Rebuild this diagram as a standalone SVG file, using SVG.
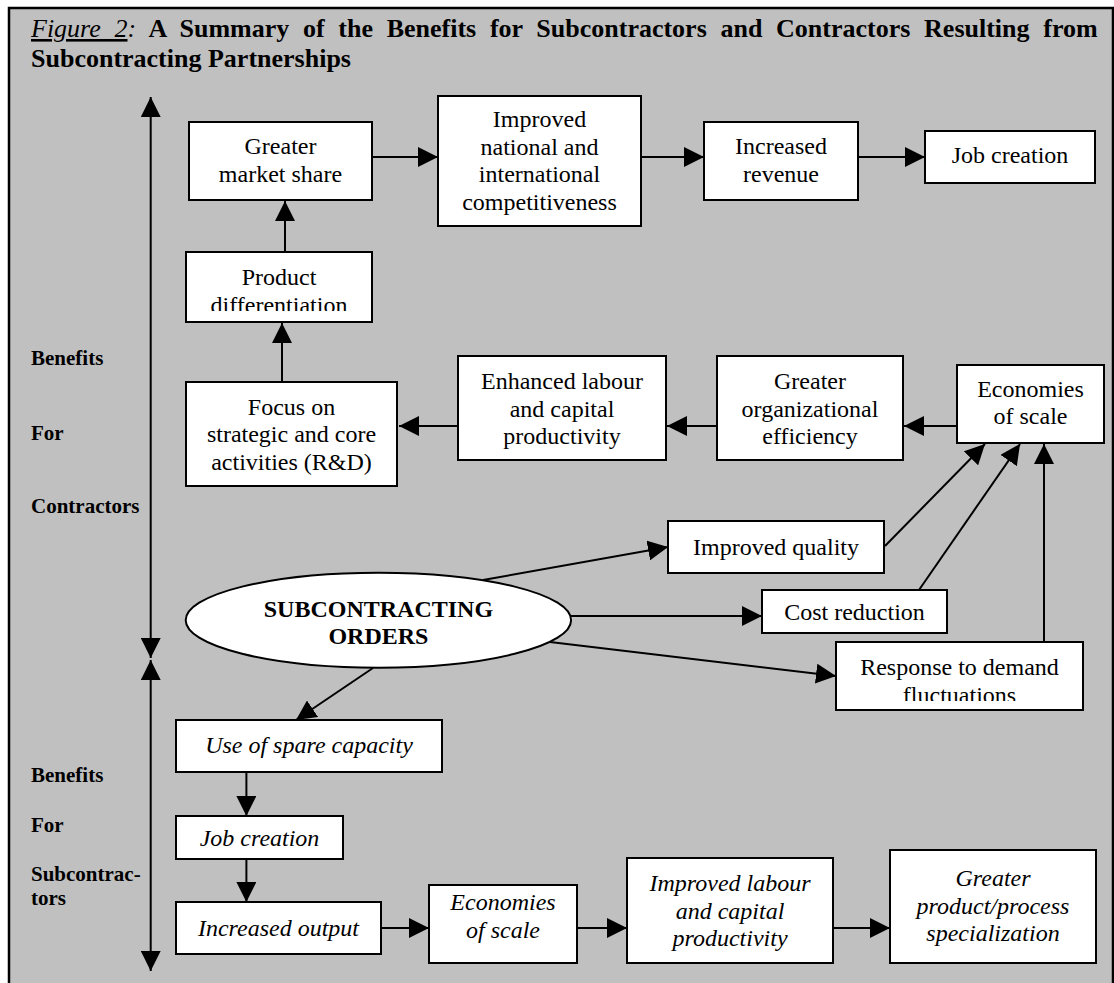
<svg xmlns="http://www.w3.org/2000/svg" width="1114" height="983" viewBox="0 0 1114 983">
<style>
  text { font-family: "Liberation Serif", "Times New Roman", serif; fill: #000; }
  .t { font-size: 24px; text-anchor: middle; }
  .it { font-size: 24px; text-anchor: middle; font-style: italic; }
  .lab { font-size: 21px; font-weight: bold; }
  .ttl { font-size: 26px; }
  .box { fill: #fff; stroke: #000; stroke-width: 2; }
  .con line { stroke: #000; stroke-width: 2; fill: none; marker-end: url(#ah); }
</style>
<defs>
  <marker id="ah" markerUnits="userSpaceOnUse" markerWidth="20" markerHeight="20" viewBox="0 0 20 20" refX="20" refY="10" orient="auto-start-reverse">
    <path d="M0,0 L20,10 L0,20 Z" fill="#000"/>
  </marker>
  <clipPath id="clipPd"><rect x="186" y="252" width="186" height="59"/></clipPath>
  <clipPath id="clipResp"><rect x="836" y="642" width="247" height="59"/></clipPath>
</defs>
<rect x="0" y="0" width="1114" height="983" fill="#fff"/>
<rect id="frame" x="9" y="8" width="1104" height="1000" fill="#c0c0c0" stroke="#000" stroke-width="2.5"/>

<g id="title">
  <text class="ttl" x="31" y="37" word-spacing="7.2"><tspan font-style="italic" text-decoration="underline">Figure 2</tspan><tspan font-style="italic">:</tspan><tspan font-weight="bold"> A Summary of the Benefits for Subcontractors and Contractors Resulting from</tspan></text>
  <text class="ttl" x="31" y="67" font-weight="bold">Subcontracting Partnerships</text>
</g>

<g id="side-labels">
  <text class="lab" x="31" y="365">Benefits</text>
  <text class="lab" x="31" y="440">For</text>
  <text class="lab" x="31" y="513">Contractors</text>
  <text class="lab" x="31" y="782">Benefits</text>
  <text class="lab" x="31" y="832">For</text>
  <text class="lab" x="31" y="881">Subcontrac-</text>
  <text class="lab" x="31" y="905">tors</text>
</g>

<g id="connectors" class="con">
  <line x1="150.7" y1="658" x2="150.7" y2="97" marker-start="url(#ah)"/>
  <line x1="150.7" y1="660" x2="150.7" y2="971" marker-start="url(#ah)"/>
  <line x1="372" y1="157" x2="438" y2="157"/>
  <line x1="641" y1="157" x2="704" y2="157"/>
  <line x1="858" y1="157" x2="925" y2="157"/>
  <line x1="285" y1="252" x2="285" y2="201"/>
  <line x1="282" y1="382" x2="282" y2="323"/>
  <line x1="458" y1="426" x2="399" y2="426"/>
  <line x1="717" y1="426" x2="667" y2="426"/>
  <line x1="957" y1="426" x2="904" y2="426"/>
  <line x1="885" y1="546" x2="985" y2="444"/>
  <line x1="919" y1="590" x2="1020" y2="444"/>
  <line x1="1044" y1="642" x2="1044" y2="444"/>
  <line x1="483" y1="580" x2="668" y2="547"/>
  <line x1="571" y1="616" x2="762" y2="616"/>
  <line x1="550" y1="642" x2="836" y2="676"/>
  <line x1="373" y1="668" x2="296" y2="720"/>
  <line x1="246.4" y1="772" x2="246.4" y2="816"/>
  <line x1="246.4" y1="859" x2="246.4" y2="902"/>
  <line x1="381" y1="928" x2="429" y2="928"/>
  <line x1="577" y1="928" x2="627" y2="928"/>
  <line x1="833" y1="928" x2="890" y2="928"/>
</g>

<g id="n-market-share">
  <rect class="box" x="189" y="122" width="183" height="78"/>
  <text class="t" x="280.5" y="154">Greater</text>
  <text class="t" x="280.5" y="181.7">market share</text>
</g>
<g id="n-competitiveness">
  <rect class="box" x="438" y="96" width="203" height="130"/>
  <text class="t" x="539.5" y="127">Improved</text>
  <text class="t" x="539.5" y="154.7">national and</text>
  <text class="t" x="539.5" y="182.3">international</text>
  <text class="t" x="539.5" y="210">competitiveness</text>
</g>
<g id="n-revenue">
  <rect class="box" x="704" y="122" width="154" height="78"/>
  <text class="t" x="781" y="154">Increased</text>
  <text class="t" x="781" y="181.7">revenue</text>
</g>
<g id="n-job-creation">
  <rect class="box" x="925" y="131" width="170" height="52"/>
  <text class="t" x="1010" y="162.7">Job creation</text>
</g>
<g id="n-product-diff">
  <rect class="box" x="186" y="252" width="186" height="70"/>
  <g clip-path="url(#clipPd)">
    <text class="t" x="279" y="285">Product</text>
    <text class="t" x="279" y="312.6">differentiation</text>
  </g>
</g>
<g id="n-focus">
  <rect class="box" x="186" y="382" width="211" height="104"/>
  <text class="t" x="291.5" y="414.5">Focus on</text>
  <text class="t" x="291.5" y="442">strategic and core</text>
  <text class="t" x="291.5" y="469.5">activities (R&amp;D)</text>
</g>
<g id="n-enhanced">
  <rect class="box" x="458" y="356" width="208" height="104"/>
  <text class="t" x="562" y="389">Enhanced labour</text>
  <text class="t" x="562" y="416.5">and capital</text>
  <text class="t" x="562" y="444">productivity</text>
</g>
<g id="n-org-eff">
  <rect class="box" x="717" y="356" width="186" height="104"/>
  <text class="t" x="810" y="389">Greater</text>
  <text class="t" x="810" y="416.5">organizational</text>
  <text class="t" x="810" y="444">efficiency</text>
</g>
<g id="n-economies-c">
  <rect class="box" x="957" y="365" width="147" height="78"/>
  <text class="t" x="1030.5" y="396.7">Economies</text>
  <text class="t" x="1030.5" y="424">of scale</text>
</g>
<g id="n-quality">
  <rect class="box" x="668" y="521" width="216" height="52"/>
  <text class="t" x="776" y="555">Improved quality</text>
</g>
<g id="n-cost">
  <rect class="box" x="762" y="590" width="185" height="43"/>
  <text class="t" x="854.5" y="620">Cost reduction</text>
</g>
<g id="n-response">
  <rect class="box" x="836" y="642" width="247" height="68"/>
  <g clip-path="url(#clipResp)">
    <text class="t" x="959.5" y="675">Response to demand</text>
    <text class="t" x="959.5" y="702.6">fluctuations</text>
  </g>
</g>
<g id="n-orders">
  <ellipse cx="378.4" cy="620.2" rx="192.7" ry="47.5" fill="#fff" stroke="#000" stroke-width="2"/>
  <text class="t" x="378.4" y="617" font-weight="bold">SUBCONTRACTING</text>
  <text class="t" x="378.4" y="644" font-weight="bold">ORDERS</text>
</g>
<g id="n-spare">
  <rect class="box" x="176" y="720" width="266" height="52"/>
  <text class="it" x="309" y="753.3">Use of spare capacity</text>
</g>
<g id="n-job-s">
  <rect class="box" x="176" y="816" width="167" height="43"/>
  <text class="it" x="259.5" y="846">Job creation</text>
</g>
<g id="n-output">
  <rect class="box" x="176" y="902" width="205" height="52"/>
  <text class="it" x="278.5" y="936">Increased output</text>
</g>
<g id="n-economies-s">
  <rect class="box" x="429" y="885" width="148" height="78"/>
  <text class="it" x="503" y="910">Economies</text>
  <text class="it" x="503" y="937.5">of scale</text>
</g>
<g id="n-labour-s">
  <rect class="box" x="627" y="858" width="206" height="105"/>
  <text class="it" x="730" y="891">Improved labour</text>
  <text class="it" x="730" y="918.5">and capital</text>
  <text class="it" x="730" y="946">productivity</text>
</g>
<g id="n-special">
  <rect class="box" x="890" y="850" width="206" height="113"/>
  <text class="it" x="993" y="886">Greater</text>
  <text class="it" x="993" y="913.5">product/process</text>
  <text class="it" x="993" y="941">specialization</text>
</g>
</svg>
